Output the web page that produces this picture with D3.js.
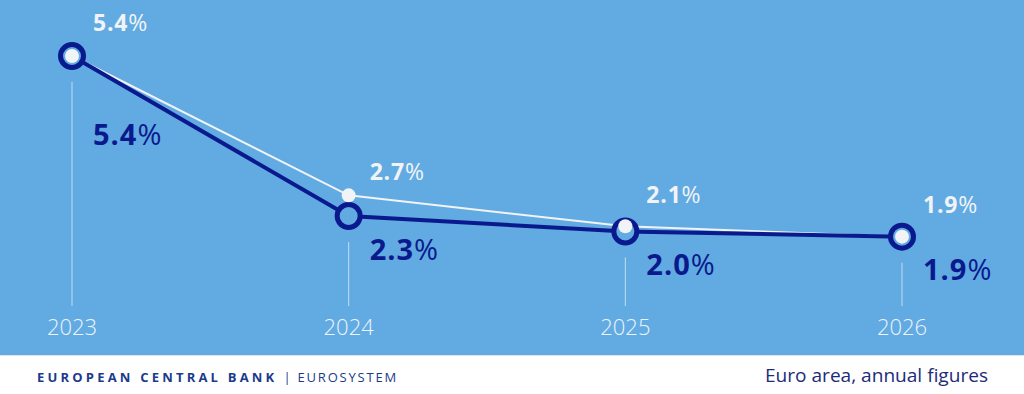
<!DOCTYPE html>
<html>
<head>
<meta charset="utf-8">
<script src="https://cdn.jsdelivr.net/npm/d3@7"></script>
<style>
  body { margin: 0; background: #fff; }
  svg { display: block; }
  text { font-family: "Open Sans", "Noto Sans", sans-serif; }
</style>
</head>
<body>
<div id="chart"></div>
<script>
//chart data
const years = ["2023", "2024", "2025", "2026"];
const latestValues = [5.4, 2.3, 2.0, 1.9];
const previousValues = [5.4, 2.7, 2.1, 1.9];

//setting visual dimensions
const width = 1024;
const height = 394;
const plotBottom = 355;

const blue = "#61abe2";
const navy = "#0a1a8e";
const light = "#f1f3f7";

const svg = d3.select("#chart")
  .append("svg")
  .attr("width", width)
  .attr("height", height);

//background panel
svg.append("rect")
  .attr("width", width)
  .attr("height", plotBottom)
  .attr("fill", blue);

svg.append("line")
  .attr("x1", 0).attr("x2", width)
  .attr("y1", plotBottom + 0.5).attr("y2", plotBottom + 0.5)
  .attr("stroke", "#d4e6f5");

//scales
const x = d3.scalePoint()
  .domain(years)
  .range([72, 902]);

const y = d3.scaleLinear()
  .domain([0, 5.4])
  .range([334.7, 56]);

const latest = years.map((yr, i) => ({ year: yr, value: latestValues[i] }));
const previous = years.map((yr, i) => ({ year: yr, value: previousValues[i] }));

//vertical guide lines
svg.selectAll(".guide")
  .data(latest)
  .enter()
  .append("line")
  .attr("class", "guide")
  .attr("x1", d => x(d.year))
  .attr("x2", d => x(d.year))
  .attr("y1", d => y(d.value) + 26)
  .attr("y2", 306)
  .attr("stroke", "#c2dcf2")
  .attr("stroke-width", 1);

//year labels
svg.selectAll(".year")
  .data(years)
  .enter()
  .append("text")
  .attr("class", "year")
  .attr("x", d => x(d))
  .attr("y", 335)
  .attr("text-anchor", "middle")
  .attr("fill", "#eef4fa")
  .attr("font-size", 22)
  .attr("font-weight", 300)
  .text(d => d);

const line = d3.line()
  .x(d => x(d.year))
  .y(d => y(d.value));

//previous projection line
svg.append("path")
  .datum(previous)
  .attr("d", line)
  .attr("fill", "none")
  .attr("stroke", light)
  .attr("stroke-width", 2);

//latest projection line
svg.append("path")
  .datum(latest)
  .attr("d", line)
  .attr("fill", "none")
  .attr("stroke", navy)
  .attr("stroke-width", 4);

svg.selectAll(".ring")
  .data(latest)
  .enter()
  .append("circle")
  .attr("class", "ring")
  .attr("cx", d => x(d.year))
  .attr("cy", d => y(d.value))
  .attr("r", 11.5)
  .attr("fill", blue)
  .attr("stroke", navy)
  .attr("stroke-width", 5);

svg.selectAll(".dot")
  .data(previous)
  .enter()
  .append("circle")
  .attr("class", "dot")
  .attr("cx", d => x(d.year))
  .attr("cy", d => y(d.value))
  .attr("r", 7)
  .attr("fill", light);

//label offsets (first year dark label sits lower to clear the line)
const prevLabelDy = [-25, -15, -23, -24];
const latestLabelDy = [89, 44, 44, 43];

function addLabel(d, dy, color, size, spacing) {
  const t = svg.append("text")
    .attr("x", x(d.year) + 21)
    .attr("y", y(d.value) + dy)
    .attr("fill", color)
    .attr("font-size", size)
    .attr("letter-spacing", spacing);
  t.append("tspan").attr("font-weight", 700).text(d3.format(".1f")(d.value));
  t.append("tspan").attr("font-weight", 400).text("%");
}

previous.forEach((d, i) => addLabel(d, prevLabelDy[i], light, 23, 0.8));
latest.forEach((d, i) => addLabel(d, latestLabelDy[i], navy, 29, 1));

//footer
const brand = svg.append("text")
  .attr("x", 37)
  .attr("y", 382)
  .attr("fill", "#1b3a8c")
  .attr("font-size", 13)
  .attr("letter-spacing", 3.2);
brand.append("tspan").attr("font-weight", 700).text("EUROPEAN CENTRAL BANK");
brand.append("tspan").attr("font-weight", 400).attr("dx", 6).attr("letter-spacing", 1.8).text("| EUROSYSTEM");

svg.append("text")
  .attr("x", 988)
  .attr("y", 382)
  .attr("text-anchor", "end")
  .attr("fill", "#1c2c78")
  .attr("font-size", 19)
  .attr("textLength", 223)
  .attr("lengthAdjust", "spacingAndGlyphs")
  .text("Euro area, annual figures");
</script>
</body>
</html>
